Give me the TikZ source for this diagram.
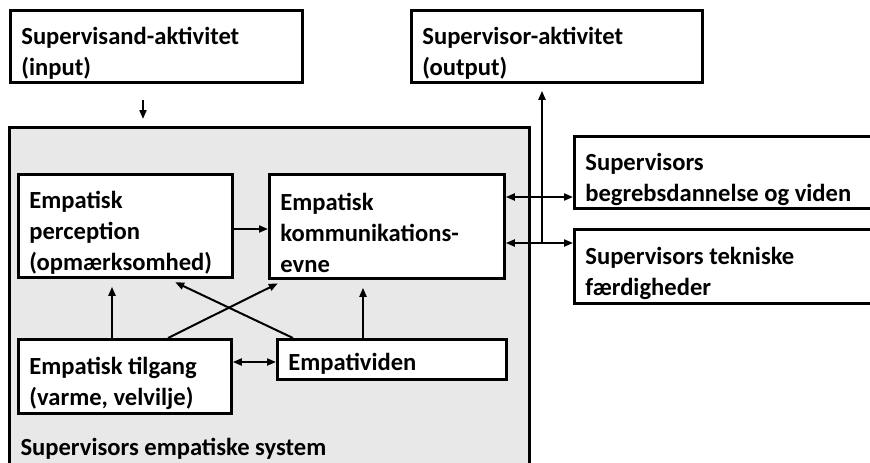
\documentclass[tikz,border=0pt]{standalone}
\usepackage{fontspec}
\setmainfont{Carlito}
\usetikzlibrary{arrows.meta}
\definecolor{sysgray}{RGB}{232,232,232}
\newcommand{\boxfont}{\fontsize{24.6}{31}\selectfont\bfseries}
\tikzset{
  box/.style={draw, line width=2.8pt, fill=white, anchor=north west, align=flush left,
    inner xsep=11pt, inner ysep=0pt, font=\boxfont,
    execute at begin node={\rule{0pt}{#1}}},
  box/.default=31pt,
  arr/.style={line width=2pt, -{Triangle[length=9pt,width=7pt]}},
  darr/.style={line width=2pt, {Triangle[length=9pt,width=7pt]}-{Triangle[length=9pt,width=7pt]}}
}

\begin{document}
\begin{tikzpicture}[x=1pt,y=-1pt]
	\clip (0,0) rectangle (870,463);
	\fill[white] (0,0) rectangle (870,463);
	% the empathic system
	\node[draw, line width=2.8pt, fill=sysgray, anchor=north west, minimum width=520, minimum height=400] (sys) at (8,126) {};
	\node[anchor=base west, font=\boxfont] (syslabel) at (17,455) {Supervisors empatiske system};
	\node[box, text width=270pt, minimum height=72] (input) at (9,9) {Supervisand-aktivitet\\(input)};
	\node[box, text width=269pt, minimum height=72] (output) at (410,9) {Supervisor-aktivitet\\(output)};
	\node[box, text width=192pt, minimum height=103] (perc) at (17,173) {Empatisk\\perception\\(opmærksomhed)};
	\node[box, text width=213pt, minimum height=104] (komm) at (268,173) {Empatisk\\kommunikations-\\evne};
	\node[box, text width=191pt, minimum height=74] (tilg) at (17,338) {Empatisk tilgang\\(varme,~velvilje)};
	\node[box=26pt, text width=207pt, minimum height=40] (empv) at (276,338) {Empatividen};
	\node[box, text width=298pt, minimum height=72] (begreb) at (573,135) {Supervisors\\begrebsdannelse og viden};
	\node[box, text width=298pt, minimum height=74] (tekn) at (573,228) {Supervisors tekniske\\færdigheder};
	% helper coordinates
	\coordinate (xin) at (143,0);
	\coordinate (xout) at (542,0);
	\coordinate (xa) at (112,0);
	\coordinate (xb) at (363,0);
	\coordinate (xc) at (168,0);
	\coordinate (xd) at (293,0);
	\coordinate (xe) at (285,0);
	\coordinate (yhi) at (0,197);
	\coordinate (ylo) at (0,243);
	\coordinate (ymid) at (0,229);
	\coordinate (ylow) at (0,362);
	% connectors
	\draw[arr, shorten <=16pt, shorten >=7pt] (input.south -| xin) -- (sys.north -| xin);
	\draw[darr] (komm.east |- yhi) -- (begreb.west |- yhi);
	\draw[darr] (komm.east |- ylo) -- (tekn.west |- ylo);
	\draw[arr, shorten >=7pt] (xout |- ylo) -- (output.south -| xout);
	\draw[arr] (perc.east |- ymid) -- (komm.west |- ymid);
	\draw[arr, shorten >=8pt] (tilg.north -| xa) -- (perc.south -| xa);
	\draw[arr, shorten >=8pt] (empv.north -| xb) -- (komm.south -| xb);
	\draw[arr, shorten >=8pt] (tilg.north -| xc) -- (komm.south -| xe);
	\draw[arr, shorten >=8pt] (empv.north -| xd) -- (perc.south -| xc);
	\draw[darr] (tilg.east |- ylow) -- (empv.west |- ylow);
\end{tikzpicture}
\end{document}
